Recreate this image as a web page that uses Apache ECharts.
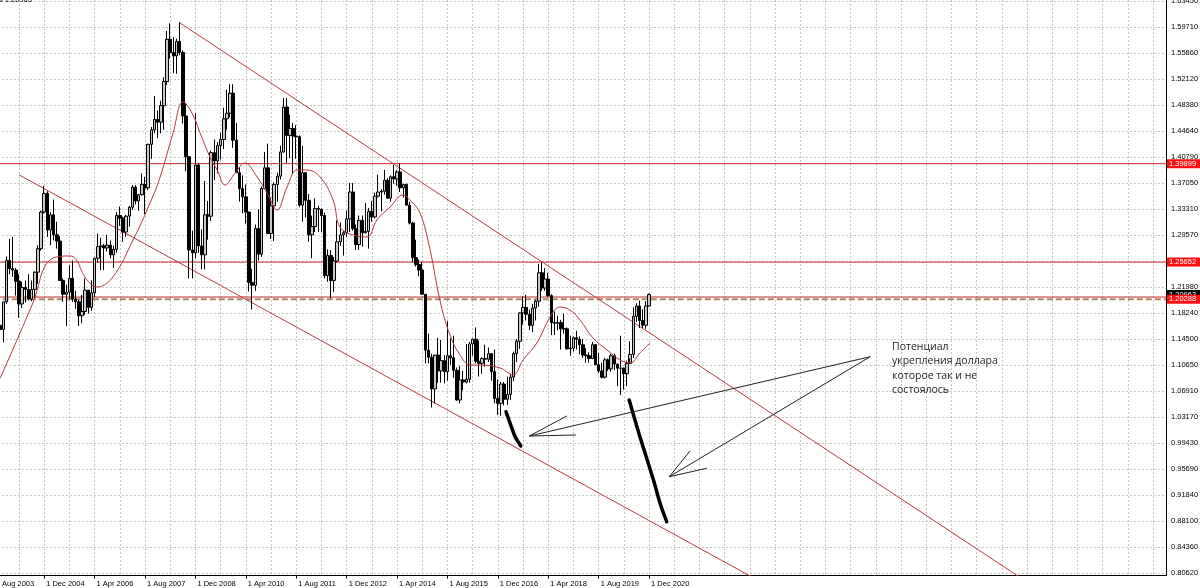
<!DOCTYPE html>
<html><head><meta charset="utf-8">
<script src="https://cdn.jsdelivr.net/npm/echarts@6/dist/echarts.min.js"></script>
<style>html,body{margin:0;padding:0;background:#fff;overflow:hidden}#c{width:1200px;height:588px}</style>
</head><body><div id="c"></div>
<script>
// months counted from Aug 2003 (= 0); first candle is Oct 2003
const firstMonth = 2;
const opens = [
1.1650,1.1590,1.1990,
1.2590,1.2470,1.2450,1.2290,1.1960,1.2200,1.2170,1.2030,1.2170,1.2420,1.2760,1.3290,
1.3560,1.3030,1.3250,1.2960,1.2870,1.2300,1.2100,1.2130,1.2330,1.2030,1.1990,1.1790,
1.1850,1.2160,1.1910,1.2120,1.2620,1.2790,1.2800,1.2770,1.2810,1.2670,1.2750,1.3240,
1.3200,1.3000,1.3230,1.3360,1.3650,1.3450,1.3540,1.3690,1.3640,1.4270,1.4480,1.4630,
1.4590,1.4830,1.5180,1.5790,1.5600,1.5550,1.5760,1.5600,1.4680,1.4090,1.2740,1.2700,
1.3970,1.2800,1.2670,1.3250,1.3230,1.4150,1.4030,1.4250,1.4340,1.4640,1.4720,1.5010,
1.4330,1.3860,1.3630,1.3510,1.3290,1.2270,1.2230,1.3050,1.2680,1.3630,1.3930,1.2980,
1.3380,1.3690,1.3810,1.4160,1.4810,1.4400,1.4500,1.4390,1.4380,1.3390,1.3860,1.3460,
1.2960,1.3080,1.3340,1.3330,1.3240,1.2370,1.2660,1.2300,1.2580,1.2860,1.2960,1.2990,
1.3190,1.3580,1.3050,1.2820,1.3170,1.2990,1.3010,1.3300,1.3220,1.3520,1.3580,1.3590,
1.3750,1.3490,1.3800,1.3770,1.3870,1.3640,1.3690,1.3390,1.3130,1.2630,1.2530,1.2450,
1.2100,1.1290,1.1190,1.0730,1.1220,1.0990,1.1140,1.0980,1.1210,1.1180,1.1000,1.0570,
1.0860,1.0830,1.0870,1.1380,1.1450,1.1130,1.1100,1.1170,1.1160,1.1240,1.0980,1.0590,
1.0520,1.0800,1.0580,1.0650,1.0900,1.1240,1.1420,1.1830,1.1910,1.1810,1.1650,1.1900,
1.2000,1.2410,1.2190,1.2320,1.2080,1.1690,1.1680,1.1690,1.1600,1.1600,1.1310,1.1320,
1.1470,1.1450,1.1370,1.1220,1.1210,1.1170,1.1370,1.1080,1.0990,1.0900,1.1150,1.1020,
1.1210,1.1090,1.1030,1.1030,1.0950,1.1100,1.1230,1.1780,1.1930,1.1720,1.1650,1.1930];
const highs = [
1.1840,1.1990,1.2650,
1.2900,1.2930,1.2480,1.2390,1.2280,1.2300,1.2390,1.2300,1.2430,1.2810,1.3310,1.3670,
1.3590,1.3290,1.3470,1.3150,1.2940,1.2330,1.2240,1.2520,1.2590,1.2150,1.2020,1.2090,
1.2330,1.2160,1.2300,1.2630,1.2980,1.2920,1.2830,1.2960,1.2880,1.2800,1.3290,1.3370,
1.3220,1.3250,1.3380,1.3680,1.3680,1.3550,1.3850,1.3800,1.4280,1.4520,1.4970,1.4760,
1.4900,1.5240,1.5910,1.6020,1.5820,1.5800,1.6040,1.5630,1.4870,1.4100,1.3020,1.4720,
1.4000,1.3040,1.3740,1.3450,1.4180,1.4340,1.4300,1.4440,1.4800,1.5060,1.5140,1.5140,
1.4580,1.3940,1.3820,1.3690,1.3290,1.2470,1.3110,1.3330,1.3660,1.4160,1.4280,1.3500,
1.3720,1.3860,1.4250,1.4940,1.4940,1.4700,1.4580,1.4550,1.4400,1.4250,1.3870,1.3550,
1.3240,1.3490,1.3380,1.3340,1.3280,1.2750,1.2740,1.2640,1.3170,1.3140,1.3020,1.3310,
1.3710,1.3710,1.3110,1.3240,1.3240,1.3420,1.3350,1.3450,1.3570,1.3830,1.3620,1.3900,
1.3780,1.3820,1.3970,1.3900,1.3990,1.3680,1.3700,1.3440,1.3150,1.2890,1.2600,1.2570,
1.2100,1.1530,1.1240,1.1210,1.1470,1.1440,1.1220,1.1710,1.1460,1.1500,1.1040,1.1060,
1.0990,1.1380,1.1410,1.1460,1.1620,1.1430,1.1190,1.1370,1.1330,1.1250,1.1300,1.0870,
1.0830,1.0830,1.0910,1.0950,1.1270,1.1450,1.1840,1.2070,1.2090,1.1880,1.1960,1.2020,
1.2540,1.2560,1.2480,1.2410,1.2100,1.1850,1.1790,1.1730,1.1820,1.1620,1.1500,1.1490,
1.1570,1.1490,1.1450,1.1320,1.1260,1.1410,1.1380,1.1250,1.1110,1.1180,1.1170,1.1240,
1.1240,1.1100,1.1500,1.1040,1.1140,1.1420,1.1910,1.1970,1.2010,1.1880,1.2000,1.2110];
const lows = [
1.1560,1.1405,1.1960,
1.2390,1.2350,1.2080,1.1760,1.1900,1.1980,1.2010,1.2000,1.2040,1.2250,1.2730,1.3270,
1.2930,1.2810,1.2880,1.2760,1.2300,1.1990,1.1640,1.2030,1.1990,1.1890,1.1640,1.1680,
1.1800,1.1820,1.1860,1.2060,1.2560,1.2450,1.2450,1.2720,1.2620,1.2480,1.2700,1.3090,
1.2860,1.2930,1.3080,1.3320,1.3400,1.3310,1.3530,1.3260,1.3610,1.4060,1.4430,1.4360,
1.4430,1.4480,1.5130,1.5510,1.5300,1.5290,1.5560,1.4570,1.3880,1.2330,1.2330,1.2620,
1.2700,1.2460,1.2460,1.2890,1.3160,1.3750,1.3850,1.4050,1.4200,1.4480,1.4660,1.4220,
1.3860,1.3440,1.3270,1.3120,1.2140,1.1880,1.2150,1.2590,1.2640,1.3620,1.2970,1.2900,
1.2870,1.3440,1.3760,1.4150,1.4000,1.4070,1.3840,1.4060,1.3360,1.3150,1.3210,1.2860,
1.2620,1.3000,1.3000,1.3000,1.2330,1.2280,1.2040,1.2130,1.2560,1.2800,1.2660,1.2930,
1.3000,1.3020,1.2740,1.2740,1.2790,1.2980,1.2760,1.3150,1.3200,1.3500,1.3300,1.3540,
1.3480,1.3440,1.3700,1.3670,1.3580,1.3500,1.3390,1.3110,1.2570,1.2500,1.2360,1.2100,
1.1100,1.1100,1.0460,1.0520,1.0820,1.0820,1.0810,1.0850,1.1080,1.0890,1.0560,1.0520,
1.0710,1.0810,1.0820,1.1210,1.1100,1.0910,1.0950,1.1050,1.1120,1.0850,1.0520,1.0350,
1.0340,1.0490,1.0500,1.0570,1.0840,1.1120,1.1310,1.1660,1.1720,1.1580,1.1550,1.1720,
1.1920,1.2150,1.2150,1.2060,1.1510,1.1510,1.1580,1.1300,1.1530,1.1300,1.1210,1.1270,
1.1300,1.1230,1.1180,1.1110,1.1110,1.1160,1.1100,1.0960,1.0880,1.0880,1.0990,1.0980,
1.1000,1.0770,1.0640,1.0720,1.0770,1.1170,1.1180,1.1700,1.1610,1.1610,1.1600,1.1920];
const closes = [
1.1590,1.1990,1.2590,
1.2470,1.2450,1.2290,1.1960,1.2200,1.2170,1.2030,1.2170,1.2420,1.2760,1.3290,1.3560,
1.3030,1.3250,1.2960,1.2870,1.2300,1.2100,1.2130,1.2330,1.2030,1.1990,1.1790,1.1850,
1.2160,1.1910,1.2120,1.2620,1.2790,1.2800,1.2770,1.2810,1.2670,1.2750,1.3240,1.3200,
1.3000,1.3230,1.3360,1.3650,1.3450,1.3540,1.3690,1.3640,1.4270,1.4480,1.4630,1.4590,
1.4830,1.5180,1.5790,1.5600,1.5550,1.5760,1.5600,1.4680,1.4090,1.2740,1.2700,1.3970,
1.2800,1.2670,1.3250,1.3230,1.4150,1.4030,1.4250,1.4340,1.4640,1.4720,1.5010,1.4330,
1.3860,1.3630,1.3510,1.3290,1.2270,1.2230,1.3050,1.2680,1.3630,1.3930,1.2980,1.3380,
1.3690,1.3810,1.4160,1.4810,1.4400,1.4500,1.4390,1.4380,1.3390,1.3860,1.3460,1.2960,
1.3080,1.3340,1.3330,1.3240,1.2370,1.2660,1.2300,1.2580,1.2860,1.2960,1.2990,1.3190,
1.3580,1.3050,1.2820,1.3170,1.2990,1.3010,1.3300,1.3220,1.3520,1.3580,1.3590,1.3750,
1.3490,1.3800,1.3770,1.3870,1.3640,1.3690,1.3390,1.3130,1.2630,1.2530,1.2450,1.2100,
1.1290,1.1190,1.0730,1.1220,1.0990,1.1140,1.0980,1.1210,1.1180,1.1000,1.0570,1.0860,
1.0830,1.0870,1.1380,1.1450,1.1130,1.1100,1.1170,1.1160,1.1240,1.0980,1.0590,1.0520,
1.0800,1.0580,1.0650,1.0900,1.1240,1.1420,1.1830,1.1910,1.1810,1.1650,1.1900,1.2000,
1.2410,1.2190,1.2320,1.2080,1.1690,1.1680,1.1690,1.1600,1.1600,1.1310,1.1320,1.1470,
1.1450,1.1370,1.1220,1.1210,1.1170,1.1370,1.1080,1.0990,1.0900,1.1150,1.1020,1.1210,
1.1090,1.1030,1.1030,1.0950,1.1100,1.1230,1.1780,1.1930,1.1720,1.1650,1.1930,1.2096];

// moving average: [month index, price]
const maMonths = [2,12.4,17.8,24.2,29.6,32.8,37.8,44.2,49.6,52.8,56.9,60.1,62.9,65.5,68.6,70.9,73.4,76.6,79.7,83.6,86.7,89.9,93.1,96.3,99.4,103.6,107.7,109.9,114,118.5,121.6,125.8,129.9,132.1,135.3,138.5,141.6,144.8,148,151.2,154.3,160.7,164.8,168,172.4,176.6,179.7,182.9,186.1,190.2,194.7,198.8,202,205.1,208.3];
const maValues = [1.0883,1.1973,1.2596,1.2654,1.2306,1.2205,1.2350,1.2885,1.3421,1.3797,1.4434,1.4883,1.4723,1.4434,1.4087,1.3898,1.3681,1.3855,1.4000,1.3797,1.3566,1.3320,1.3652,1.3898,1.3898,1.3797,1.3464,1.3073,1.2958,1.2929,1.3175,1.3363,1.3537,1.3464,1.3276,1.2740,1.2017,1.1510,1.1221,1.1076,1.1076,1.1033,1.0931,1.1148,1.1395,1.1771,1.1915,1.1872,1.1727,1.1467,1.1293,1.1148,1.1105,1.1250,1.1395];

// x axis ticks (month index) and labels
const xTickMonths = [0,16,32,48,64,80,96,112,128,144,160,176,192,208];
const xTickLabels = ['1 Aug 2003','1 Dec 2004','1 Apr 2006','1 Aug 2007','1 Dec 2008','1 Apr 2010','1 Aug 2011','1 Dec 2012','1 Apr 2014','1 Aug 2015','1 Dec 2016','1 Apr 2018','1 Aug 2019','1 Dec 2020'];
// price scale labels, bottom to top
const yTickLabels = ['0.80620','0.84360','0.88100','0.91840','0.95690','0.99430','1.03170','1.06910','1.10650','1.14500','1.18240','1.21980','1.25830','1.29570','1.33310','1.37050','1.40790','1.44640','1.48380','1.52120','1.55860','1.59710','1.63450'];

// horizontal levels
const redLevels = [1.39899, 1.25652];
const dashedLevel = 1.20288;
const thinRedLevel = 1.2060;
const bidPrice = 1.20963;

// trend lines [month index, price]
const upperTrend = [[59.1,1.6026],[340,0.7574]];
const lowerTrend = [[8.1,1.3826],[250,0.7774]];
// hand drawn thick strokes
const strokeC = [[162.6,1.0400],[163.9,1.0232],[165.5,1.0038],[167.3,0.9904]];
const strokeD = [[201.7,1.0570],[205.1,1.0038],[209.4,0.9412],[211.5,0.9074],[213.6,0.8808]];
// arrows
const arrowAShaft = [[278.2,1.1196],[170.0,1.0048]];
const arrowAHead = [[181.9,1.0338],[170.0,1.0048],[184.8,1.0063]];
const arrowBShaft = [[278.2,1.1196],[214.4,0.9459]];
const arrowBHead = [[221.0,0.9831],[214.4,0.9459],[226.3,0.9581]];

const noteText = 'Потенциал\nукрепления доллара\nкоторое так и не\nсостоялось';

// ---------- layout ----------
const X_MAX = 372.1;
const Y0_MIN = 0.80293, Y0_MAX = 1.6359;
const Y1_MIN = 0.8062, Y1_MAX = 1.6345, Y1_STEP = (1.6345 - 0.8062) / 22;
const FONT = 'Liberation Sans, Arial, sans-serif';
const GRIDCOL = '#c4c4c4';
const LVLRED = '#c62828';

const candleData = opens.map((o, i) => [firstMonth + i, o, closes[i], lows[i], highs[i]]);
const maData = maMonths.map((m, i) => [m, maValues[i]]);

function levelSeries(level, lineStyle, labelBg, z) {
  return {
    type: 'line', xAxisIndex: 0, yAxisIndex: 0, data: [[0, level], [X_MAX, level]],
    showSymbol: false, silent: true, z: z, lineStyle: lineStyle,
    endLabel: labelBg ? {show: true, formatter: level.toFixed(5), backgroundColor: labelBg, color: '#fff',
      fontSize: 7.5, fontFamily: FONT, padding: [1, 4, 0, 2], distance: 1} : {show: false}
  };
}

const chart = echarts.init(document.getElementById('c'), null, {renderer: 'canvas'});
chart.setOption({
  animation: false,
  backgroundColor: '#fff',
  grid: [
    {left: -6.2, right: 34, top: 0, bottom: 12.5, containLabel: false, outerBoundsMode: 'none'},
    {left: -6.2, right: 34, top: 1, bottom: 14.7, containLabel: false, outerBoundsMode: 'none'}
  ],
  xAxis: [
    {type: 'value', gridIndex: 0, min: 0, max: X_MAX, interval: 16, position: 'bottom',
     axisLine: {show: true, onZero: false, lineStyle: {color: '#000', width: 1}},
     axisTick: {show: true, length: 3, lineStyle: {color: '#000'}, customValues: xTickMonths},
     axisLabel: {show: true, customValues: xTickMonths, align: 'left', margin: 4, fontSize: 7.5,
       fontFamily: FONT, color: '#000', padding: [0, 0, 0, 2],
       formatter: v => { const k = xTickMonths.indexOf(Math.round(v)); return k >= 0 ? xTickLabels[k] : ''; }},
     splitLine: {show: false}},
    {type: 'value', gridIndex: 0, min: 0, max: X_MAX, interval: 8, position: 'top',
     axisLine: {show: false}, axisTick: {show: false}, axisLabel: {show: false},
     splitLine: {show: true, lineStyle: {color: GRIDCOL, type: [2, 2], width: 1}}},
    {type: 'value', gridIndex: 1, min: 0, max: X_MAX, show: false}
  ],
  yAxis: [
    {type: 'value', gridIndex: 0, min: Y0_MIN, max: Y0_MAX, position: 'right',
     axisLine: {show: true, onZero: false, lineStyle: {color: '#000', width: 1}},
     axisTick: {show: false}, axisLabel: {show: false}, splitLine: {show: false}},
    {type: 'value', gridIndex: 1, min: Y1_MIN, max: Y1_MAX, interval: Y1_STEP, position: 'right',
     axisLine: {show: false}, axisTick: {show: true, length: 3, lineStyle: {color: '#000'}},
     axisLabel: {show: true, margin: 5, fontSize: 7.5, fontFamily: FONT, color: '#000',
       formatter: v => yTickLabels[Math.round((v - Y1_MIN) / Y1_STEP)] || ''},
     splitLine: {show: true, lineStyle: {color: GRIDCOL, type: [2, 2], width: 1}}}
  ],
  graphic: [
    {type: 'text', left: 892, top: 340, z: 50,
     style: {text: noteText, fontSize: 10.5, fontFamily: 'Open Sans, sans-serif', lineHeight: 14.3, fill: '#1e1e1e'}},
    {type: 'text', left: -1, top: -4, z: 50,
     style: {text: 's 1.20963', fontSize: 7.5, fontFamily: FONT, fill: '#000'}}
  ],
  series: [
    levelSeries(bidPrice, {opacity: 0}, '#000', 1),
    levelSeries(thinRedLevel, {color: LVLRED, width: 1}, null, 1.2),
    levelSeries(dashedLevel, {color: '#b08a5e', width: 2, type: [6, 3]}, '#ff1010', 1.5),
    levelSeries(redLevels[0], {color: LVLRED, width: 1}, '#ff1010', 1.5),
    levelSeries(redLevels[1], {color: LVLRED, width: 1}, '#ff1010', 1.5),
    {type: 'line', xAxisIndex: 0, yAxisIndex: 0, data: upperTrend, showSymbol: false, clip: true, z: 2,
     lineStyle: {color: '#b83b3b', width: 1}},
    {type: 'line', xAxisIndex: 0, yAxisIndex: 0, data: lowerTrend, showSymbol: false, clip: true, z: 2,
     lineStyle: {color: '#b83b3b', width: 1}},
    {type: 'candlestick', xAxisIndex: 0, yAxisIndex: 0, data: candleData, barWidth: 3, z: 3,
     encode: {x: 0, y: [1, 2, 3, 4]},
     itemStyle: {color: '#c8c8c8', color0: '#000', borderColor: '#000', borderColor0: '#000', borderWidth: 1}},
    {type: 'line', xAxisIndex: 0, yAxisIndex: 0, data: maData, showSymbol: false, smooth: 0.4, z: 4,
     lineStyle: {color: '#b23a3a', width: 1}},
    {type: 'line', xAxisIndex: 0, yAxisIndex: 0, data: strokeC, showSymbol: false, smooth: 0.3, z: 5,
     lineStyle: {color: '#000', width: 3.5, cap: 'round'}},
    {type: 'line', xAxisIndex: 0, yAxisIndex: 0, data: strokeD, showSymbol: false, smooth: 0.3, z: 5,
     lineStyle: {color: '#000', width: 3.5, cap: 'round'}},
    {type: 'line', xAxisIndex: 0, yAxisIndex: 0, data: arrowAShaft, showSymbol: false, z: 5, lineStyle: {color: '#222', width: 1}},
    {type: 'line', xAxisIndex: 0, yAxisIndex: 0, data: arrowAHead, showSymbol: false, z: 5, lineStyle: {color: '#222', width: 1}},
    {type: 'line', xAxisIndex: 0, yAxisIndex: 0, data: arrowBShaft, showSymbol: false, z: 5, lineStyle: {color: '#222', width: 1}},
    {type: 'line', xAxisIndex: 0, yAxisIndex: 0, data: arrowBHead, showSymbol: false, z: 5, lineStyle: {color: '#222', width: 1}}
  ]
});
</script></body></html>
